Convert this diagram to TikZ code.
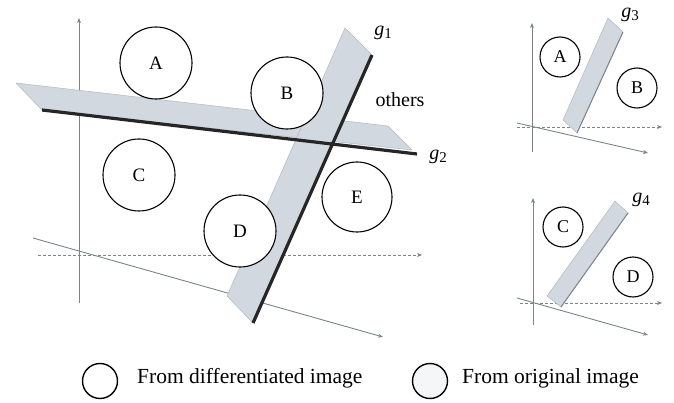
\documentclass[tikz,border=0pt]{standalone}
\usepackage{fontspec}
\setmainfont{Liberation Serif}
\usetikzlibrary{arrows.meta}
\definecolor{bandfill}{RGB}{210,216,223}
\definecolor{banddraw}{RGB}{178,184,192}
\definecolor{axisgray}{RGB}{125,131,139}
\tikzset{
  band/.style={fill=bandfill, draw=banddraw, line width=0.5pt, line join=round},
  gline/.style={line width=3.2pt, draw=black!85},
  axisline/.style={draw=axisgray, line width=0.9pt, -{Stealth[length=5pt,width=4pt]}},
  axisdot/.style={draw=axisgray, line width=0.9pt, dash pattern=on 3pt off 2pt, -{Stealth[length=5pt,width=4pt]}},
  bigc/.style={circle, draw=black, line width=1.1pt, fill=white, minimum size=72pt, inner sep=0pt, font=\fontsize{19}{19}\selectfont},
  smallc/.style={circle, draw=black, line width=1.1pt, fill=white, minimum size=40pt, inner sep=0pt, font=\fontsize{18}{18}\selectfont},
  lab/.style={font=\fontsize{20}{20}\selectfont, inner sep=0pt},
  legc/.style={circle, draw=black, line width=1.4pt, minimum size=35pt, inner sep=0pt},
  legt/.style={font=\fontsize{21.5}{21.5}\selectfont, anchor=west, inner sep=0pt}
}
\newcommand{\gsub}[1]{\textit{g}\raisebox{-0.35ex}{\fontsize{15}{15}\selectfont #1}}
\begin{document}
\begin{tikzpicture}[x=1pt,y=-1pt]
\useasboundingbox (0,0) rectangle (674,403);
% ---------- main panel ----------
\coordinate (vyb) at (79,303); \coordinate (vyt) at (79,18);
\coordinate (hxl) at (38,255); \coordinate (hxr) at (422,255);
\coordinate (sl) at (33,238); \coordinate (sr) at (383,337);
\draw[axisline] (vyb) -- (vyt);
\draw[axisdot] (hxl) -- (hxr);
\draw[axisline] (sl) -- (sr);
% bands
\coordinate (b2a) at (16,83); \coordinate (b2b) at (388,126);
\coordinate (b2c) at (412,150); \coordinate (b2d) at (42,110);
\coordinate (g2e) at (417,154);
\draw[band] (b2a) -- (b2b) -- (b2c) -- (b2d) -- cycle;
\coordinate (b1a) at (345,28); \coordinate (b1b) at (372,55);
\coordinate (b1c) at (253,323); \coordinate (b1d) at (227,296);
\draw[band] (b1a) -- (b1b) -- (b1c) -- (b1d) -- cycle;
\draw[gline] (b2d) -- (g2e);
\draw[gline] (b1b) -- (b1c);
% circles
\node[bigc] (A) at (156,63) {A};
\node[bigc] (B) at (287,93) {B};
\node[bigc] (C) at (139,175) {C};
\node[bigc] (D) at (240,231) {D};
\node[bigc, minimum size=70pt] (E) at (357,197) {E};
% labels
\node[lab] (g1) at (383,33) {\gsub{1}};
\node[lab] (g2) at (438,157) {\gsub{2}};
\node[lab] (oth) at (400,100) {others};
% ---------- top right panel ----------
\coordinate (tvb) at (532,152); \coordinate (tvt) at (532,23);
\coordinate (thl) at (517,127); \coordinate (thr) at (662,127);
\coordinate (tsl) at (517,123); \coordinate (tsr) at (648,153);
\draw[axisline] (tvb) -- (tvt);
\draw[axisdot] (thl) -- (thr);
\draw[axisline] (tsl) -- (tsr);
\coordinate (t3a) at (608,18); \coordinate (t3b) at (623,32);
\coordinate (t3c) at (577,133); \coordinate (t3d) at (563,120);
\draw[band] (t3a) -- (t3b) -- (t3c) -- (t3d) -- cycle;
\draw[draw=axisgray, line width=1pt] (t3b) -- (t3c);
\node[smallc] (A2) at (560,57) {A};
\node[smallc] (B2) at (637,88) {B};
\node[lab] (g3) at (630,15) {\gsub{3}};
% ---------- bottom right panel ----------
\coordinate (bvb) at (533,325); \coordinate (bvt) at (533,198);
\coordinate (bhl) at (520,303); \coordinate (bhr) at (662,303);
\coordinate (bsl) at (517,298); \coordinate (bsr) at (648,335);
\draw[axisline] (bvb) -- (bvt);
\draw[axisdot] (bhl) -- (bhr);
\draw[axisline] (bsl) -- (bsr);
\coordinate (t4a) at (615,201); \coordinate (t4b) at (628,213);
\coordinate (t4c) at (561,307); \coordinate (t4d) at (547,296);
\draw[band] (t4a) -- (t4b) -- (t4c) -- (t4d) -- cycle;
\draw[draw=axisgray, line width=1pt] (t4b) -- (t4c);
\node[smallc] (C2) at (563,227) {C};
\node[smallc] (D2) at (633,277) {D};
\node[lab] (g4) at (641,200) {\gsub{4}};
% ---------- legend ----------
\node[legc, fill=white] (L1) at (100,381) {};
\node[legt] (T1) at (137,378) {From differentiated image};
\node[legc, fill=bandfill!22] (L2) at (430,381) {};
\node[legt] (T2) at (462,378) {From original image};
\end{tikzpicture}
\end{document}
